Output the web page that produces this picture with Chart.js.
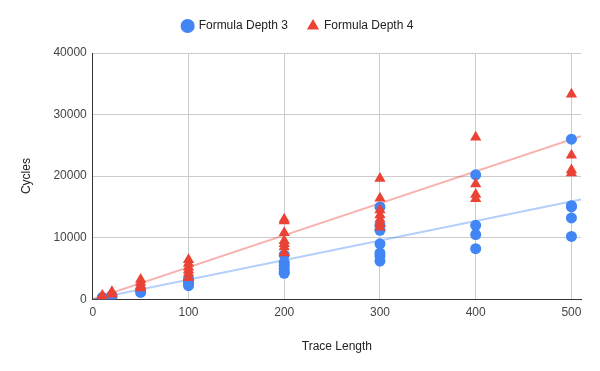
<!DOCTYPE html>
<html>
<head>
<meta charset="utf-8">
<script src="https://cdn.jsdelivr.net/npm/chart.js@4"></script>
<style>
  body { margin: 0; background: #fff; }
  #wrap { width: 600px; height: 371px; }
</style>
</head>
<body>
<div id="wrap"><canvas id="myChart" width="600" height="371"></canvas></div>
<script>
// trace lengths and cycles
const depth3X = [10, 10, 20, 20, 50, 50, 100, 100, 100, 100,
  200, 200, 200, 200, 200, 200, 300, 300, 300, 300, 300, 300, 300,
  400, 400, 400, 400, 500, 500, 500, 500, 500];
const depth3Y = [300, 200, 600, 400, 1500, 1100, 3300, 3000, 2600, 2200,
  7200, 6000, 5500, 5000, 4500, 4200, 15000, 12000, 11200, 9000, 7500, 7000, 6200,
  20200, 12000, 10500, 8200, 26000, 15200, 15000, 13200, 10200];
const depth4X = [10, 10, 20, 20, 50, 50, 50, 50, 100, 100, 100, 100, 100, 100,
  200, 200, 200, 200, 200, 200, 200, 300, 300, 300, 300, 300, 300, 300,
  400, 400, 400, 400, 500, 500, 500, 500];
const depth4Y = [600, 300, 1200, 800, 3200, 2700, 2200, 1800, 6400, 5800, 5200, 4700, 4200, 3500,
  13000, 12700, 10800, 9500, 9000, 8500, 7500, 19600, 16400, 14500, 13700, 13000, 12300, 11700,
  26300, 18700, 17000, 16300, 33300, 23400, 21000, 20500];
// trendline ends
const trendX = [0, 510];
const trend3 = [0, 16200];
const trend4 = [0, 26500];

const xTicks = [0, 100, 200, 300, 400, 500];

const toPts = (xs, ys) => xs.map((x, i) => ({ x: x, y: ys[i] }));
const font = { family: 'Liberation Sans, Arial', size: 12 };

// push the plot area down a bit below the legend
const legendGap = {
  id: 'legendGap',
  beforeInit(chart) {
    const fit = chart.legend.fit;
    chart.legend.fit = function () {
      fit.bind(chart.legend)();
      this.height += 11;
    };
  }
};

const ctx = document.getElementById('myChart').getContext('2d');
const myChart = new Chart(ctx, {
  type: 'scatter',
  data: {
    datasets: [{
      label: 'Formula Depth 3',
      data: toPts(depth3X, depth3Y),
      pointStyle: 'circle',
      pointRadius: 5.5,
      backgroundColor: '#4285F4',
      borderColor: '#4285F4',
      borderWidth: 0,
      order: 1
    }, {
      label: 'Formula Depth 4',
      data: toPts(depth4X, depth4Y),
      pointStyle: 'triangle',
      pointRadius: 6.5,
      backgroundColor: '#EA4335',
      borderColor: '#EA4335',
      borderWidth: 0,
      order: 0
    }, {
      label: 'trend3',
      type: 'line',
      data: toPts(trendX, trend3),
      borderColor: 'rgba(66,133,244,0.4)',
      borderWidth: 2,
      pointRadius: 0,
      order: 3
    }, {
      label: 'trend4',
      type: 'line',
      data: toPts(trendX, trend4),
      borderColor: 'rgba(234,67,53,0.4)',
      borderWidth: 2,
      pointRadius: 0,
      order: 2
    }]
  },
  options: {
    responsive: false,
    animation: false,
    layout: { padding: { left: 15, right: 19, top: 0, bottom: 13 } },
    plugins: {
      legend: {
        position: 'top',
        labels: {
          usePointStyle: true,
          boxWidth: 10,
          boxHeight: 10,
          padding: 20,
          color: '#222',
          font: font,
          sort: (a, b) => a.datasetIndex - b.datasetIndex,
          filter: item => item.text.indexOf('trend') !== 0
        }
      },
      tooltip: { enabled: false }
    },
    scales: {
      x: {
        type: 'linear',
        min: 0,
        max: 510,
        afterBuildTicks: axis => { axis.ticks = xTicks.map(v => ({ value: v })); },
        grid: { color: '#cccccc', drawTicks: false },
        border: { color: '#333333' },
        ticks: { color: '#444', padding: 6, font: font, callback: v => String(v) },
        title: { display: true, text: 'Trace Length', color: '#222', padding: { top: 14 }, font: font }
      },
      y: {
        min: 0,
        max: 40000,
        ticks: { stepSize: 10000, color: '#444', padding: 6, font: font, callback: v => String(v) },
        grid: { color: '#cccccc', drawTicks: false },
        border: { color: '#333333' },
        title: { display: true, text: 'Cycles', color: '#222', padding: { bottom: 14 }, font: font }
      }
    }
  },
  plugins: [legendGap]
});
</script>
</body>
</html>
